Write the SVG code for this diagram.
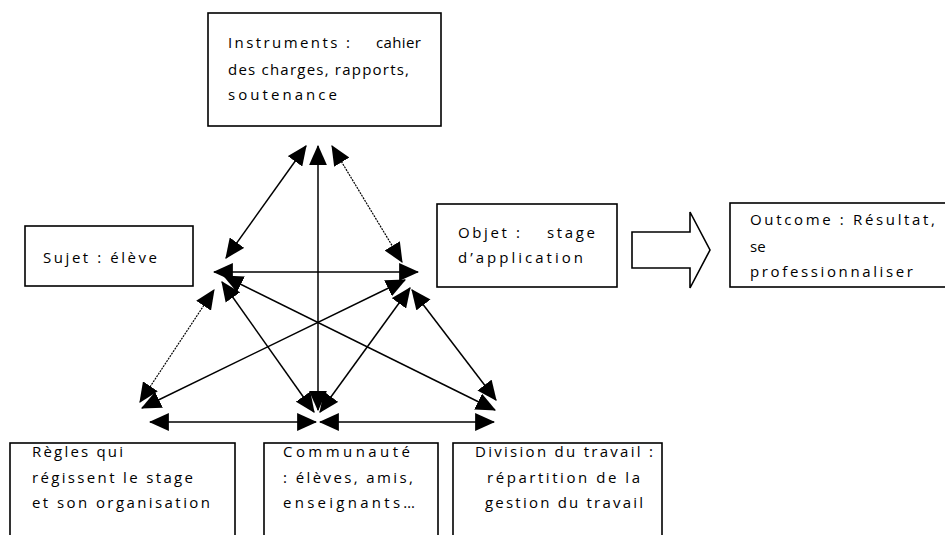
<svg xmlns="http://www.w3.org/2000/svg" width="945" height="535" viewBox="0 0 945 535">
<style>
.box{fill:#fff;stroke:#000;stroke-width:1.6}
.t{font-family:"Open Sans","Liberation Sans",sans-serif;font-size:15px;fill:#000}
.c{fill:none;stroke:#000;stroke-width:1.5;marker-start:url(#ah);marker-end:url(#ah)}
.d{stroke-dasharray:2 1;stroke-width:1.2}
</style>
<defs>
<marker id="ah" markerUnits="userSpaceOnUse" viewBox="0 0 18 16" markerWidth="20" markerHeight="18" refX="17" refY="8" orient="auto-start-reverse">
<path d="M0,0 L18,8 L0,16 z" fill="#000"/>
</marker>
</defs>
<rect width="945" height="535" fill="#fff"/>
<g id="connectors">
<line class="c" x1="226" y1="258" x2="306" y2="146"/>
<line class="c" x1="318" y1="146" x2="318" y2="410"/>
<line class="c d" x1="332" y1="146" x2="402" y2="262"/>
<line class="c" x1="214" y1="272" x2="418" y2="272"/>
<line class="c" x1="224" y1="276" x2="495" y2="410"/>
<line class="c" x1="222" y1="282" x2="314" y2="412"/>
<line class="c" x1="142" y1="408" x2="405" y2="280"/>
<line class="c d" x1="140" y1="402" x2="214" y2="290"/>
<line class="c" x1="320" y1="412" x2="410" y2="288"/>
<line class="c" x1="412" y1="290" x2="496" y2="400"/>
<line class="c" x1="150" y1="422" x2="316" y2="422"/>
<line class="c" x1="320" y1="422" x2="494" y2="422"/>
<polygon points="632,232 690,232 690,212 710,250 690,288 690,268 632,268" fill="#fff" stroke="#000" stroke-width="1.6"/>
</g>
<g id="instruments">
<rect class="box" x="208" y="13" width="233" height="113"/>
<text class="t" x="228" y="48" textLength="122" lengthAdjust="spacing">Instruments :</text>
<text class="t" x="376" y="48" textLength="45" lengthAdjust="spacing">cahier</text>
<text class="t" x="228" y="75" textLength="181" lengthAdjust="spacing">des charges, rapports,</text>
<text class="t" x="228" y="100" textLength="109" lengthAdjust="spacing">soutenance</text>
</g>
<g id="sujet">
<rect class="box" x="25" y="226" width="168" height="60"/>
<text class="t" x="43" y="263" textLength="114" lengthAdjust="spacing">Sujet : élève</text>
</g>
<g id="objet">
<rect class="box" x="437" y="204" width="180" height="83"/>
<text class="t" x="458" y="238" textLength="62" lengthAdjust="spacing">Objet :</text>
<text class="t" x="547" y="238" textLength="48" lengthAdjust="spacing">stage</text>
<text class="t" x="458" y="263" textLength="125" lengthAdjust="spacing">d’application</text>
</g>
<g id="outcome">
<rect class="box" x="730" y="203" width="220" height="84"/>
<text class="t" x="750" y="225" textLength="185" lengthAdjust="spacing">Outcome : Résultat,</text>
<text class="t" x="750" y="252">se</text>
<text class="t" x="750" y="277" textLength="163" lengthAdjust="spacing">professionnaliser</text>
</g>
<g id="regles">
<rect class="box" x="10" y="443" width="225" height="100"/>
<text class="t" x="32" y="457" textLength="91" lengthAdjust="spacing">Règles qui</text>
<text class="t" x="32" y="483" textLength="161" lengthAdjust="spacing">régissent le stage</text>
<text class="t" x="32" y="508" textLength="178" lengthAdjust="spacing">et son organisation</text>
</g>
<g id="communaute">
<rect class="box" x="264" y="443" width="174" height="100"/>
<text class="t" x="283" y="457" textLength="127" lengthAdjust="spacing">Communauté</text>
<text class="t" x="283" y="483" textLength="130" lengthAdjust="spacing">: élèves, amis,</text>
<text class="t" x="283" y="508" textLength="132" lengthAdjust="spacing">enseignants…</text>
</g>
<g id="division">
<rect class="box" x="453" y="443" width="209" height="100"/>
<text class="t" x="475" y="457" textLength="178" lengthAdjust="spacing">Division du travail :</text>
<text class="t" x="487" y="483" textLength="153" lengthAdjust="spacing">répartition de la</text>
<text class="t" x="485" y="508" textLength="158" lengthAdjust="spacing">gestion du travail</text>
</g>
</svg>
